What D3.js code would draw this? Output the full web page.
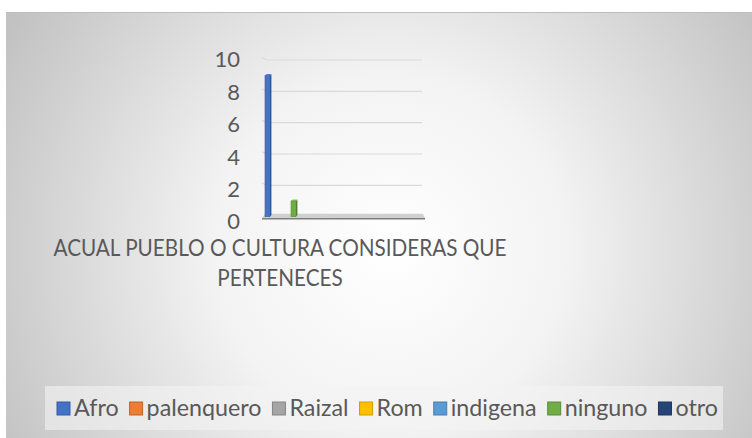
<!DOCTYPE html>
<html>
<head>
<meta charset="utf-8">
<script src="https://cdn.jsdelivr.net/npm/d3@7/dist/d3.min.js"></script>
<style>
    html, body { margin: 0; padding: 0; background: #fff; }
    svg { display: block; }
    text { font-family: Lato, "Open Sans", sans-serif; fill: #595959; }
</style>
</head>
<body>
<div id="chart"></div>
<script>
    // datos del grafico
    let category = ['ACUAL PUEBLO O CULTURA CONSIDERAS QUE PERTENECES'];
    let titleLines = ['ACUAL PUEBLO O CULTURA CONSIDERAS QUE', 'PERTENECES'];
    let seriesNames = ['Afro', 'palenquero', 'Raizal', 'Rom', 'indigena', 'ninguno', 'otro'];
    let seriesValues = [9, 0, 0, 0, 0, 1, 0];
    let seriesColors = ['#4472C4', '#ED7D31', '#A5A5A5', '#FFC000', '#5B9BD5', '#70AD47', '#264478'];
    let yTicks = [0, 2, 4, 6, 8, 10];

    let width = 752, height = 438;
    // Lato es algo mas ancha que la letra original: se estrecha un poco
    let narrow = 0.9;

    let svg = d3.select('#chart').append('svg')
        .attr('width', width)
        .attr('height', height);

    // fondo con degradado radial
    let defs = svg.append('defs');
    let grad = defs.append('radialGradient')
        .attr('id', 'bg')
        .attr('gradientUnits', 'userSpaceOnUse')
        .attr('cx', 390).attr('cy', 250).attr('r', 440);
    grad.append('stop').attr('offset', '0%').attr('stop-color', '#ffffff');
    grad.append('stop').attr('offset', '40%').attr('stop-color', '#f3f3f3');
    grad.append('stop').attr('offset', '100%').attr('stop-color', '#c2c2c2');

    svg.append('rect')
        .attr('x', 6).attr('y', 12)
        .attr('width', width - 6).attr('height', height - 12)
        .attr('fill', 'url(#bg)');
    svg.append('line')
        .attr('x1', 6).attr('x2', width)
        .attr('y1', 12.5).attr('y2', 12.5)
        .attr('stroke', '#bdbdbd');

    // escalas
    let plot = {left: 262, right: 422, top: 60, bottom: 216.7};

    let y = d3.scaleLinear()
        .domain([0, 10])
        .range([plot.bottom, plot.top]);

    // las etiquetas del eje quedan algo desplazadas por la perspectiva 3D
    let yLab = d3.scaleLinear()
        .domain([0, 10])
        .range([221, 59]);

    let x0 = d3.scaleBand()
        .domain(category)
        .range([plot.left, plot.right]);

    let x1 = d3.scaleBand()
        .domain(seriesNames)
        .range([265, 301.4]);

    let depth = 1.6;
    let face = x1.bandwidth() - 0.4;

    // lineas de division
    let grid = svg.append('g');
    yTicks.filter(d => d > 0).forEach(function (t) {
        let yy = y(t);
        grid.append('path')
            .attr('d', 'M' + plot.left + ',' + (yy - 2.3) + 'L' + (plot.left + 5) + ',' + yy + 'H' + plot.right)
            .attr('fill', 'none')
            .attr('stroke', '#d9d9d9')
            .attr('stroke-width', 1.2);
    });

    // piso
    svg.append('path')
        .attr('d', 'M' + (plot.left + 3) + ',' + (plot.bottom - 3) + 'H' + (plot.right + 1) + 'L' + (plot.right + 3) + ',' + (plot.bottom + 1.5) + 'H' + plot.left + 'Z')
        .attr('fill', '#d0d0d0');
    svg.append('line')
        .attr('x1', plot.left).attr('x2', plot.right + 3)
        .attr('y1', plot.bottom + 2).attr('y2', plot.bottom + 2)
        .attr('stroke', '#7f7f7f')
        .attr('stroke-width', 1.6);

    // eje y
    let yAxis = d3.axisLeft(yLab)
        .tickValues(yTicks)
        .tickSize(0)
        .tickPadding(0);

    let gy = svg.append('g')
        .attr('transform', 'translate(240,0)')
        .call(yAxis);
    gy.select('.domain').remove();
    gy.selectAll('text')
        .style('font-family', 'Lato, sans-serif')
        .style('font-size', '22px')
        .style('fill', '#595959')
        .attr('dy', '0.36em');

    // barras
    let data = seriesNames.map(function (s, i) {
        return {name: s, value: seriesValues[i], color: seriesColors[i]};
    });

    let bars = svg.append('g')
        .attr('transform', 'translate(' + (x0(category[0]) - plot.left) + ',0)');

    let shown = data.filter(d => d.value > 0);

    bars.selectAll('.side')
        .data(shown)
        .enter().append('path')
        .attr('class', 'side')
        .attr('d', function (d) {
            let xa = x1(d.name) + face, yt = y(d.value), yb = y(0);
            return 'M' + xa + ',' + yt + 'L' + (xa + depth) + ',' + (yt - depth) + 'L' + (xa + depth) + ',' + (yb - depth) + 'L' + xa + ',' + yb + 'Z';
        })
        .attr('fill', d => d3.color(d.color).darker(0.9));

    bars.selectAll('.top')
        .data(shown)
        .enter().append('path')
        .attr('class', 'top')
        .attr('d', function (d) {
            let xa = x1(d.name), yt = y(d.value);
            return 'M' + xa + ',' + yt + 'L' + (xa + depth) + ',' + (yt - depth) + 'L' + (xa + face + depth) + ',' + (yt - depth) + 'L' + (xa + face) + ',' + yt + 'Z';
        })
        .attr('fill', d => d3.color(d.color).brighter(0.4));

    bars.selectAll('.front')
        .data(data)
        .enter().append('rect')
        .attr('class', 'front')
        .attr('x', d => x1(d.name))
        .attr('y', d => y(d.value))
        .attr('width', face)
        .attr('height', d => y(0) - y(d.value))
        .attr('fill', d => d.color)
        .attr('stroke', d => d.value > 0 ? d3.color(d.color).darker(0.5) : 'none')
        .attr('stroke-width', 0.6);

    // titulo del eje de categorias
    let title = svg.append('g');
    title.selectAll('text')
        .data(titleLines)
        .enter().append('text')
        .attr('x', 280)
        .attr('y', (d, i) => 256 + i * 30)
        .attr('text-anchor', 'middle')
        .style('font-size', '23px')
        .text(d => d);
    title.selectAll('text').each(function () {
        let w = this.getComputedTextLength();
        d3.select(this)
            .attr('textLength', w * narrow)
            .attr('lengthAdjust', 'spacingAndGlyphs');
    });

    // leyenda
    let legend = {left: 45, right: 723, top: 386, bottom: 430};
    svg.append('rect')
        .attr('x', legend.left).attr('y', legend.top)
        .attr('width', legend.right - legend.left)
        .attr('height', legend.bottom - legend.top)
        .attr('fill', '#f4f4f4')
        .attr('fill-opacity', 0.6);

    let sq = 13, gapText = 4, gapItem = 11;
    let items = svg.append('g').selectAll('g')
        .data(data)
        .enter().append('g');

    items.append('rect')
        .attr('width', sq).attr('height', sq)
        .attr('y', 402)
        .attr('fill', d => d.color)
        .attr('stroke', d => d3.color(d.color).darker(0.6))
        .attr('stroke-width', 1);

    let labels = items.append('text')
        .attr('x', sq + gapText)
        .attr('y', 416)
        .style('font-size', '24px')
        .text(d => d.name);

    // estrechar las etiquetas para que la leyenda ocupe lo mismo que el original
    let target = 718 - 57;
    let fixed = data.length * (sq + gapText) + (data.length - 1) * gapItem;
    let textW = 0;
    labels.each(function () { textW += this.getComputedTextLength(); });
    let k = (target - fixed) / textW;

    let cx = 57;
    items.each(function () {
        let g = d3.select(this);
        let t = g.select('text');
        let w = t.node().getComputedTextLength() * k;
        t.attr('textLength', w).attr('lengthAdjust', 'spacingAndGlyphs');
        g.attr('transform', 'translate(' + cx + ',0)');
        cx += sq + gapText + w + gapItem;
    });
</script>
</body>
</html>
